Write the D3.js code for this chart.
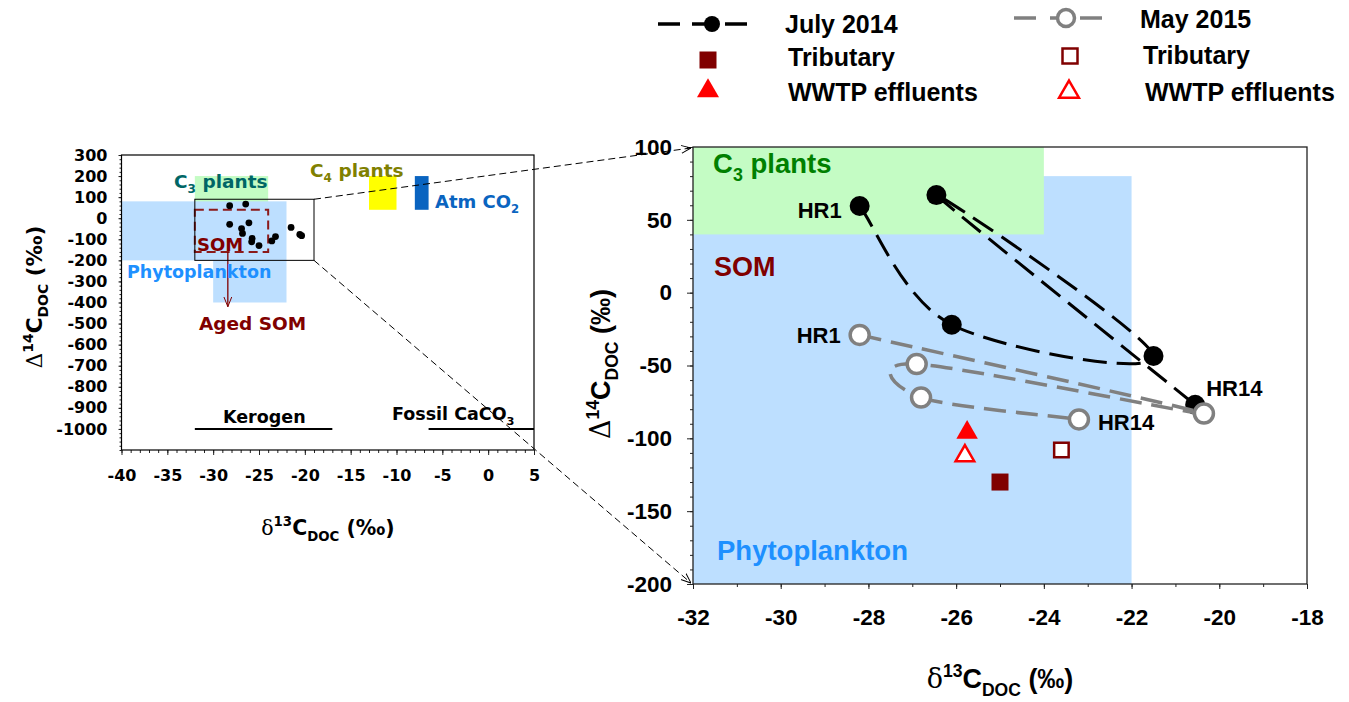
<!DOCTYPE html>
<html>
<head><meta charset="utf-8"><title>DOC isotopes</title>
<style>body{margin:0;background:#fff;} svg{display:block;}</style>
</head>
<body>
<svg width="1349" height="702"></svg>
<script src="https://d3js.org/d3.v7.min.js"></script>
<script>
// ---- data (d13C, D14C) ----
var julySites = ["HR1", "", "", "", "HR14"];
var julyPts = [[-28.2, 59.5], [-26.1, -22], [-21.5, -43.5], [-26.45, 67], [-20.55, -77]];
var maySites = ["HR1", "", "", "", "HR14"];
var mayPts = [[-28.2, -29], [-20.35, -83], [-26.9, -49], [-26.8, -72], [-23.2, -87]];
var tribJuly = [-25.0, -130];
var tribMay = [-23.6, -108];
var wwtpJuly = [-25.75, -96];
var wwtpMay = [-25.8, -112];

// source end-member boxes [x0, x1, y0, y1]
var c3Box = [-32, -24, 40, 200];
var phytoBoxes = [[-40, -22, -200, 80], [-30, -22, -400, -200]];
var c4Box = [-13, -10, 40, 200];
var atmBox = [-8, -6.5, 40, 200];
var somBox = [-32, -24, -160, 40];
var zoomBox = [-32, -19, -200, 90];
var kerogen = [-32, -17, -1000];
var fossil = [-6.5, 5, -1000];
var agedArrow = [-28.4, -160, -420];

var leftXTicks = [-40, -35, -30, -25, -20, -15, -10, -5, 0, 5];
var leftYTicks = [300, 200, 100, 0, -100, -200, -300, -400, -500, -600, -700, -800, -900, -1000];
var rightXTicks = [-32, -30, -28, -26, -24, -22, -20, -18];
var rightYTicks = [100, 50, 0, -50, -100, -150, -200];

var legendLeft = ["July 2014", "Tributary", "WWTP effluents"];
var legendRight = ["May 2015", "Tributary", "WWTP effluents"];

var svg = d3.select("svg");
var ARIAL = "'Liberation Sans', Arial, sans-serif";
var DEJA = "'DejaVu Sans', sans-serif";
var SYM = "'DejaVu Serif', 'Liberation Serif', serif";

var blue = "#bddfff", green = "#c4fcc4", maroon = "#800000";

// rich text with sub / superscripts
function rich(parent, x, y, size, parts, family) {
  var t = parent.append("text").attr("x", x).attr("y", y)
      .attr("font-size", size).attr("font-family", family).attr("font-weight", "bold");
  var off = 0;
  parts.forEach(function(p) {
    var target = p[1] == "sup" ? -0.42 * size : p[1] == "sub" ? 0.28 * size : 0;
    var s = t.append("tspan").text(p[0]).attr("dy", target - off);
    off = target;
    if (p[1] == "sup" || p[1] == "sub") s.attr("font-size", size * 0.65);
    if (p[1] == "sym") s.attr("font-weight", "normal").attr("font-family", SYM);
  });
  return t;
}

var defs = svg.append("defs");
function arrowMarker(id, col) {
  defs.append("marker").attr("id", id).attr("viewBox", "0 0 10 10")
      .attr("refX", 10).attr("refY", 5).attr("markerWidth", 10).attr("markerHeight", 10)
      .attr("markerUnits", "userSpaceOnUse").attr("orient", "auto")
    .append("path").attr("d", "M0,1 L10,5 L0,9").attr("fill", "none").attr("stroke", col).attr("stroke-width", 1);
}
arrowMarker("arrK", "#000");
arrowMarker("arrR", maroon);

// ================= LEFT (overview) chart =================
var xL = d3.scaleLinear().domain([-40, 5]).range([121.5, 534]);
var yL = d3.scaleLinear().domain([-1100, 300]).range([450, 155]);
var gL = svg.append("g");

function boxL(b, fill) {
  gL.append("rect").attr("x", xL(b[0])).attr("y", yL(b[3]))
    .attr("width", xL(b[1]) - xL(b[0])).attr("height", yL(b[2]) - yL(b[3])).attr("fill", fill);
}
boxL(c3Box, green);
phytoBoxes.forEach(function(b) { boxL(b, blue); });
boxL(c4Box, "#ffff00");
boxL(atmBox, "#0a64c0");

gL.append("rect").attr("x", xL(somBox[0])).attr("y", yL(somBox[3]))
  .attr("width", xL(somBox[1]) - xL(somBox[0])).attr("height", yL(somBox[2]) - yL(somBox[3]))
  .attr("fill", "none").attr("stroke", "#8b1a1a").attr("stroke-width", 2).attr("stroke-dasharray", "9,5");

gL.append("line").attr("x1", xL(agedArrow[0])).attr("x2", xL(agedArrow[0]))
  .attr("y1", yL(agedArrow[1])).attr("y2", yL(agedArrow[2]))
  .attr("stroke", maroon).attr("stroke-width", 1.3).attr("marker-end", "url(#arrR)");

gL.append("rect").attr("x", xL(zoomBox[0])).attr("y", yL(zoomBox[3]))
  .attr("width", xL(zoomBox[1]) - xL(zoomBox[0])).attr("height", yL(zoomBox[2]) - yL(zoomBox[3]))
  .attr("fill", "none").attr("stroke", "#000").attr("stroke-width", 1);

var allPts = julyPts.concat(mayPts, [tribJuly, tribMay, wwtpJuly, wwtpMay]);
gL.selectAll("circle.dot").data(allPts).enter().append("circle")
  .attr("cx", function(d) { return xL(d[0]); }).attr("cy", function(d) { return yL(d[1]); })
  .attr("r", 3.4).attr("fill", "#000");

[kerogen, fossil].forEach(function(k) {
  gL.append("line").attr("x1", xL(k[0])).attr("x2", xL(k[1])).attr("y1", yL(k[2])).attr("y2", yL(k[2]))
    .attr("stroke", "#000").attr("stroke-width", 2);
});

rich(gL, 174, 188, 18.5, [["C", ""], ["3", "sub"], [" plants", ""]], DEJA).attr("fill", "#006666");
rich(gL, 310, 177, 18.5, [["C", ""], ["4", "sub"], [" plants", ""]], DEJA).attr("fill", "#808000");
rich(gL, 435, 208, 18, [["Atm CO", ""], ["2", "sub"]], DEJA).attr("fill", "#0a64c0");
rich(gL, 197, 251, 18, [["SOM", ""]], DEJA).attr("fill", maroon);
rich(gL, 127, 278, 17.5, [["Phytoplankton", ""]], DEJA).attr("fill", "#1e90ff");
rich(gL, 199, 330, 18.5, [["Aged SOM", ""]], DEJA).attr("fill", maroon);
rich(gL, 223, 423, 17.5, [["Kerogen", ""]], DEJA).attr("fill", "#000");
rich(gL, 392, 420, 17.5, [["Fossil CaCO", ""], ["3", "sub"]], DEJA).attr("fill", "#000");

// left axes
function styleAxis(g, size, family) {
  g.select(".domain").remove();
  g.selectAll("line").attr("stroke", "#222");
  g.attr("font-size", size).attr("font-family", family).attr("font-weight", "bold");
  g.selectAll("text").attr("fill", "#000");
}
var gLx = gL.append("g").attr("transform", "translate(0," + yL(-1100) + ")")
  .call(d3.axisBottom(xL).tickValues(leftXTicks).tickSize(5).tickPadding(15).tickFormat(String));
styleAxis(gLx, 16, DEJA);
var gLxm = gL.append("g").attr("transform", "translate(0," + yL(-1100) + ")")
  .call(d3.axisBottom(xL).ticks(45).tickSize(3).tickFormat(""));
styleAxis(gLxm, 16, DEJA);
var gLy = gL.append("g").attr("transform", "translate(" + xL(-40) + ",0)")
  .call(d3.axisLeft(yL).tickValues(leftYTicks).tickSize(3).tickPadding(11).tickFormat(String));
styleAxis(gLy, 16, DEJA);
var gLym = gL.append("g").attr("transform", "translate(" + xL(-40) + ",0)")
  .call(d3.axisLeft(yL).ticks(70).tickSize(2).tickFormat(""));
styleAxis(gLym, 16, DEJA);

gL.append("rect").attr("x", xL(-40)).attr("y", yL(300))
  .attr("width", xL(5) - xL(-40)).attr("height", yL(-1100) - yL(300))
  .attr("fill", "none").attr("stroke", "#000").attr("stroke-width", 1.2);

rich(gL, 328, 535, 20.5, [["δ", "sym"], ["13", "sup"], ["C", ""], ["DOC", "sub"], [" (‰)", ""]], DEJA)
  .attr("text-anchor", "middle");
rich(gL, 0, 0, 21.5, [["Δ", "sym"], ["14", "sup"], ["C", ""], ["DOC", "sub"], [" (‰)", ""]], DEJA)
  .attr("text-anchor", "middle").attr("transform", "translate(42,297) rotate(-90)");

// ================= RIGHT (zoomed) chart =================
var xR = d3.scaleLinear().domain([-32, -18]).range([693, 1307]);
var yR = d3.scaleLinear().domain([-200, 100]).range([584, 147]);
var gR = svg.append("g");

function boxR(b, fill) {
  var x0 = Math.max(b[0], -32), x1 = Math.min(b[1], -18);
  var y0 = Math.max(b[2], -200), y1 = Math.min(b[3], 100);
  gR.append("rect").attr("x", xR(x0)).attr("y", yR(y1))
    .attr("width", xR(x1) - xR(x0)).attr("height", yR(y0) - yR(y1)).attr("fill", fill);
}
boxR(phytoBoxes[0], blue);
boxR(c3Box, green);

rich(gR, 713, 173, 27.5, [["C", ""], ["3", "sub"], [" plants", ""]], ARIAL).attr("fill", "#008000");
rich(gR, 714, 276, 27, [["SOM", ""]], ARIAL).attr("fill", maroon);
rich(gR, 717, 560, 27.5, [["Phytoplankton", ""]], ARIAL).attr("fill", "#1e90ff");

var gRx = gR.append("g").attr("transform", "translate(0,584)")
  .call(d3.axisBottom(xR).tickValues(rightXTicks).tickSize(5).tickPadding(20).tickFormat(String));
styleAxis(gRx, 22.5, ARIAL);
var gRxm = gR.append("g").attr("transform", "translate(0,584)")
  .call(d3.axisBottom(xR).ticks(14).tickSize(3).tickFormat(""));
styleAxis(gRxm, 22, ARIAL);
var gRy = gR.append("g").attr("transform", "translate(693,0)")
  .call(d3.axisLeft(yR).tickValues(rightYTicks).tickSize(6).tickPadding(15).tickFormat(String));
styleAxis(gRy, 22.5, ARIAL);
var gRym = gR.append("g").attr("transform", "translate(693,0)")
  .call(d3.axisLeft(yR).ticks(30).tickSize(3).tickFormat(""));
styleAxis(gRym, 22, ARIAL);

gR.append("rect").attr("x", 693).attr("y", 147).attr("width", 614).attr("height", 437)
  .attr("fill", "none").attr("stroke", "#222").attr("stroke-width", 1.3);

// smoothed segments, dash pattern restarting at every point
function smoothSegs(pts, col, w, dash) {
  var p = pts.map(function(d) { return [xR(d[0]), yR(d[1])]; });
  var n = p.length;
  for (var i = 0; i < n - 1; i++) {
    var a = p[Math.max(i - 1, 0)], b = p[i], c = p[i + 1], e = p[Math.min(i + 2, n - 1)];
    var path = d3.path();
    path.moveTo(b[0], b[1]);
    path.bezierCurveTo(b[0] + (c[0] - a[0]) / 6, b[1] + (c[1] - a[1]) / 6,
                       c[0] - (e[0] - b[0]) / 6, c[1] - (e[1] - b[1]) / 6, c[0], c[1]);
    gR.append("path").attr("d", path.toString()).attr("fill", "none")
      .attr("stroke", col).attr("stroke-width", w).attr("stroke-dasharray", dash);
  }
}

smoothSegs(julyPts, "#000", 3, "24,10");
gR.selectAll("circle.july").data(julyPts).enter().append("circle")
  .attr("cx", function(d) { return xR(d[0]); }).attr("cy", function(d) { return yR(d[1]); })
  .attr("r", 10).attr("fill", "#000");

smoothSegs(mayPts, "#808080", 3.5, "22,10");
gR.selectAll("circle.may").data(mayPts).enter().append("circle")
  .attr("cx", function(d) { return xR(d[0]); }).attr("cy", function(d) { return yR(d[1]); })
  .attr("r", 9.5).attr("fill", "#fff").attr("stroke", "#808080").attr("stroke-width", 3.5);

function square(g, x, y, s, filled) {
  g.append("rect").attr("x", x - s / 2).attr("y", y - s / 2).attr("width", s).attr("height", s)
    .attr("fill", filled ? maroon : "#fff").attr("stroke", maroon).attr("stroke-width", filled ? 0 : 2.5);
}
function tri(g, x, y, size, filled) {
  g.append("path").attr("d", d3.symbol().type(d3.symbolTriangle).size(size)())
    .attr("transform", "translate(" + x + "," + y + ")")
    .attr("fill", filled ? "#ff0000" : "#fff").attr("stroke", "#ff0000").attr("stroke-width", filled ? 0 : 2.5);
}
square(gR, xR(tribJuly[0]), yR(tribJuly[1]), 17, true);
square(gR, xR(tribMay[0]), yR(tribMay[1]), 14.5, false);
tri(gR, xR(wwtpJuly[0]), yR(wwtpJuly[1]), 200, true);
tri(gR, xR(wwtpMay[0]), yR(wwtpMay[1]), 150, false);

// site labels
function siteLabel(pt, txt, dx, dy, anchor) {
  if (!txt) return;
  gR.append("text").attr("x", xR(pt[0]) + dx).attr("y", yR(pt[1]) + dy)
    .attr("text-anchor", anchor).attr("font-family", ARIAL).attr("font-weight", "bold")
    .attr("font-size", 22).text(txt);
}
siteLabel(julyPts[0], julySites[0], -18, 12, "end");
siteLabel(julyPts[4], julySites[4], 11, -9, "start");
siteLabel(mayPts[0], maySites[0], -19, 8, "end");
siteLabel(mayPts[4], maySites[4], 19, 11, "start");

rich(gR, 1000, 688, 27, [["δ", "sym"], ["13", "sup"], ["C", ""], ["DOC", "sub"], [" (‰)", ""]], ARIAL)
  .attr("text-anchor", "middle");
rich(gR, 0, 0, 27, [["Δ", "sym"], ["14", "sup"], ["C", ""], ["DOC", "sub"], [" (‰)", ""]], ARIAL)
  .attr("text-anchor", "middle").attr("transform", "translate(610,364) rotate(-90)");

// ================= zoom connector lines =================
var gZ = svg.append("g");
gZ.append("line").attr("x1", xL(zoomBox[1])).attr("y1", yL(zoomBox[3]))
  .attr("x2", xR(-32) - 2).attr("y2", yR(100) + 1)
  .attr("stroke", "#000").attr("stroke-width", 1).attr("stroke-dasharray", "7,4").attr("marker-end", "url(#arrK)");
gZ.append("line").attr("x1", xL(zoomBox[1])).attr("y1", yL(zoomBox[2]))
  .attr("x2", xR(-32) - 2).attr("y2", yR(-200) - 1)
  .attr("stroke", "#000").attr("stroke-width", 1).attr("stroke-dasharray", "7,4").attr("marker-end", "url(#arrK)");

// ================= legend =================
var gLeg = svg.append("g").attr("font-family", ARIAL).attr("font-weight", "bold").attr("font-size", 25);
function legLine(x0, xc, x1, y, col, w, dash) {
  gLeg.append("line").attr("x1", x0).attr("x2", xc).attr("y1", y).attr("y2", y)
    .attr("stroke", col).attr("stroke-width", w).attr("stroke-dasharray", dash);
  gLeg.append("line").attr("x1", x1).attr("x2", xc).attr("y1", y).attr("y2", y)
    .attr("stroke", col).attr("stroke-width", w).attr("stroke-dasharray", dash);
}
legLine(658, 712, 747, 24, "#000", 3.5, "22,12");
gLeg.append("circle").attr("cx", 712).attr("cy", 24).attr("r", 8).attr("fill", "#000");
square(gLeg, 708, 60, 17, true);
tri(gLeg, 708, 91, 210, true);
gLeg.append("text").attr("x", 785).attr("y", 33).text(legendLeft[0]);
gLeg.append("text").attr("x", 788).attr("y", 66).text(legendLeft[1]);
gLeg.append("text").attr("x", 788).attr("y", 101).text(legendLeft[2]);

legLine(1014, 1066, 1102, 18, "#808080", 3.5, "22,14");
gLeg.append("circle").attr("cx", 1066).attr("cy", 18).attr("r", 8.5).attr("fill", "#fff")
  .attr("stroke", "#808080").attr("stroke-width", 3.5);
square(gLeg, 1070, 56, 15, false);
tri(gLeg, 1069, 92, 170, false);
gLeg.append("text").attr("x", 1140).attr("y", 28).text(legendRight[0]);
gLeg.append("text").attr("x", 1143).attr("y", 64).text(legendRight[1]);
gLeg.append("text").attr("x", 1145).attr("y", 101).text(legendRight[2]);
</script>
</body>
</html>
